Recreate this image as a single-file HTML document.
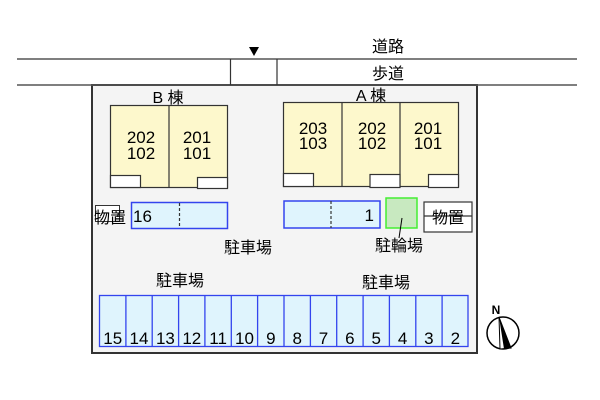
<!DOCTYPE html>
<html><head><meta charset="utf-8"><style>
html,body{margin:0;padding:0;background:#fff;width:600px;height:400px;overflow:hidden}
svg{display:block}
text{font-family:"Liberation Sans","Noto Sans CJK JP",sans-serif;fill:#000}
</style></head><body>
<svg width="600" height="400" viewBox="0 0 600 400" xmlns="http://www.w3.org/2000/svg">
<rect x="92" y="85" width="385" height="268" fill="#f4f4f4" stroke="#333" stroke-width="2"/>
<line x1="17" y1="59" x2="577" y2="59" stroke="#555" stroke-width="1.5"/>
<line x1="17" y1="85" x2="577" y2="85" stroke="#555" stroke-width="1.5"/>
<line x1="230.5" y1="59" x2="230.5" y2="85" stroke="#333" stroke-width="1.2"/>
<line x1="277" y1="59" x2="277" y2="85" stroke="#333" stroke-width="1.2"/>
<polygon points="249,47 259,47 254,56" fill="#000"/>
<text x="388" y="52" font-size="16" text-anchor="middle">道路</text>
<text x="388" y="79" font-size="16" text-anchor="middle">歩道</text>

<text x="168" y="103" font-size="16" text-anchor="middle">B 棟</text>
<rect x="110.5" y="105.5" width="117" height="82" fill="#fdf8cc" stroke="#333" stroke-width="1.2"/>
<line x1="169" y1="105" x2="169" y2="188" stroke="#333" stroke-width="1.2"/>
<rect x="110.5" y="175.5" width="30" height="12" fill="#fff" stroke="#333" stroke-width="1.2"/>
<rect x="197.5" y="177.5" width="30" height="11" fill="#fff" stroke="#333" stroke-width="1.2"/>
<g font-size="17" text-anchor="middle">
<text x="141" y="143">202</text>
<text x="141" y="159">102</text>
<text x="197" y="143">201</text>
<text x="197" y="159">101</text>
</g>

<text x="371" y="101" font-size="16" text-anchor="middle">A 棟</text>
<rect x="283.5" y="102.5" width="175" height="84" fill="#fdf8cc" stroke="#333" stroke-width="1.2"/>
<line x1="342" y1="102" x2="342" y2="187" stroke="#333" stroke-width="1.2"/>
<line x1="400" y1="102" x2="400" y2="187" stroke="#333" stroke-width="1.2"/>
<rect x="283.5" y="173.5" width="30" height="13" fill="#fff" stroke="#333" stroke-width="1.2"/>
<rect x="370" y="174.5" width="30" height="13" fill="#fff" stroke="#333" stroke-width="1.2"/>
<rect x="428.5" y="174.5" width="30" height="13" fill="#fff" stroke="#333" stroke-width="1.2"/>
<g font-size="17" text-anchor="middle">
<text x="313" y="134">203</text>
<text x="313" y="149">103</text>
<text x="372" y="134">202</text>
<text x="372" y="149">102</text>
<text x="428" y="134">201</text>
<text x="428" y="149">101</text>
</g>

<rect x="95.5" y="205.5" width="24" height="16" fill="#fff" stroke="#333" stroke-width="1"/>
<text x="94" y="223" font-size="16">物置</text>
<rect x="131.5" y="202.5" width="96" height="26" fill="#dff4fd" stroke="#3344ee" stroke-width="1.5"/>
<line x1="179.5" y1="203" x2="179.5" y2="228" stroke="#333" stroke-width="1.2" stroke-dasharray="3,2"/>
<text x="133" y="222" font-size="17">16</text>

<rect x="284" y="201" width="96" height="27" fill="#dff4fd" stroke="#3344ee" stroke-width="1.5"/>
<line x1="331" y1="201" x2="331" y2="228" stroke="#333" stroke-width="1.2" stroke-dasharray="3,2"/>
<text x="374" y="221" font-size="17" text-anchor="end">1</text>
<rect x="386" y="198" width="31" height="30" fill="#c8e9c0" stroke="#44ee33" stroke-width="1.5"/>
<line x1="402" y1="218" x2="399" y2="238" stroke="#000" stroke-width="1"/>
<rect x="424" y="202" width="48" height="30" fill="#fff" stroke="#333" stroke-width="1.2"/>
<line x1="424" y1="216" x2="472" y2="216" stroke="#333" stroke-width="1.2"/>
<text x="432" y="223" font-size="16">物置</text>
<text x="375" y="251" font-size="16">駐輪場</text>
<text x="224" y="253" font-size="16">駐車場</text>
<text x="156" y="286" font-size="16">駐車場</text>
<text x="362" y="288" font-size="16">駐車場</text>

<rect x="99.5" y="295.5" width="368.5" height="51" stroke="#3344ee" stroke-width="1.3" fill="#dff4fd"/>
<g stroke="#3344ee" stroke-width="1.3">
<line x1="125.9" y1="295" x2="125.9" y2="347"/><line x1="152.2" y1="295" x2="152.2" y2="347"/>
<line x1="178.6" y1="295" x2="178.6" y2="347"/><line x1="204.9" y1="295" x2="204.9" y2="347"/>
<line x1="231.3" y1="295" x2="231.3" y2="347"/><line x1="257.6" y1="295" x2="257.6" y2="347"/>
<line x1="284" y1="295" x2="284" y2="347"/><line x1="310.4" y1="295" x2="310.4" y2="347"/>
<line x1="336.7" y1="295" x2="336.7" y2="347"/><line x1="363.1" y1="295" x2="363.1" y2="347"/>
<line x1="389.4" y1="295" x2="389.4" y2="347"/><line x1="415.8" y1="295" x2="415.8" y2="347"/>
<line x1="442.1" y1="295" x2="442.1" y2="347"/>
</g>
<g font-size="17" text-anchor="middle">
<text x="112.7" y="344">15</text><text x="139" y="344">14</text><text x="165.4" y="344">13</text>
<text x="191.8" y="344">12</text><text x="218.1" y="344">11</text><text x="244.5" y="344">10</text>
<text x="270.8" y="344">9</text><text x="297.2" y="344">8</text><text x="323.5" y="344">7</text>
<text x="349.9" y="344">6</text><text x="376.2" y="344">5</text><text x="402.6" y="344">4</text>
<text x="428.9" y="344">3</text><text x="455.3" y="344">2</text>
</g>

<circle cx="503" cy="333" r="16" fill="#fff" stroke="#000" stroke-width="1.5"/>
<polygon points="499,317 511,348 500,349" fill="#fff" stroke="#000" stroke-width="1"/>
<polygon points="499,317 511,348 504,349" fill="#000"/>
<text x="496" y="314" font-size="12" text-anchor="middle" font-weight="bold">N</text>
</svg>
</body></html>
